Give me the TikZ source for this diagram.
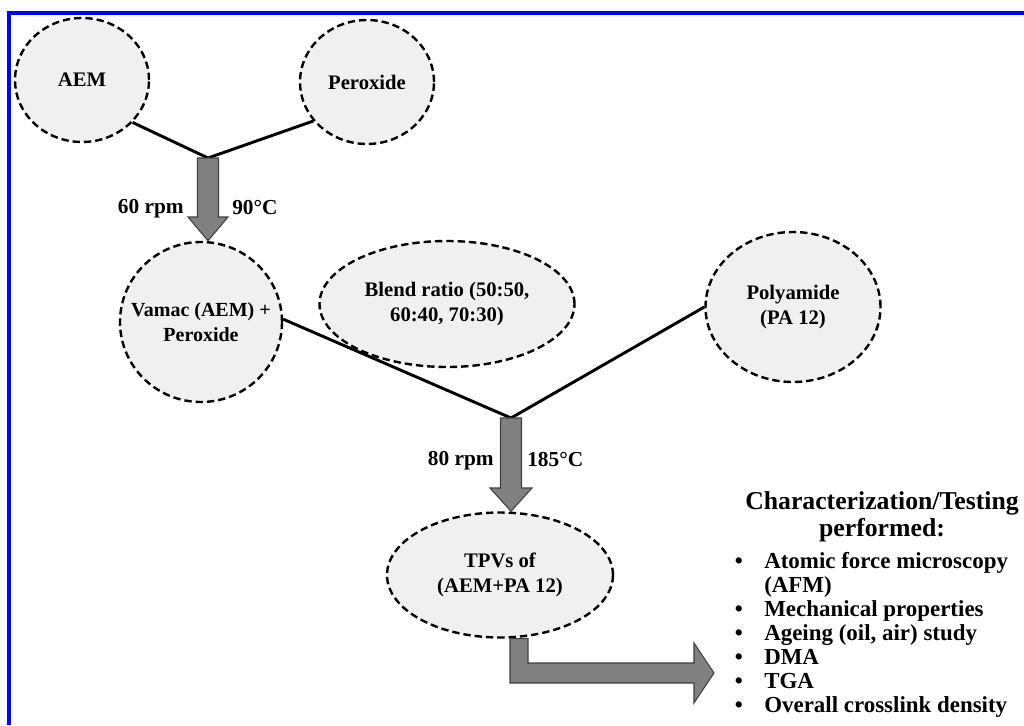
\documentclass[tikz,border=0pt]{standalone}
\usepackage{fontspec}
\setmainfont{Liberation Serif}
\usetikzlibrary{shapes.geometric,calc}
\definecolor{bubble}{RGB}{240,240,240}
\definecolor{arrowgray}{RGB}{128,128,128}
\definecolor{frameblue}{RGB}{0,0,255}
% sizes are given in pixels of the 1024x725 reference: 1px = 0.75pt
\tikzset{
  bub/.style={ellipse, draw=black, line width=1.8pt, dash pattern=on 5.5pt off 3pt, fill=bubble, inner sep=0pt},
  bubsize/.style n args={2}{minimum width=#1*0.75pt, minimum height=#2*0.75pt},
  btxt/.style={align=center, inner sep=0pt, font=\bfseries\fontsize{15.5}{18.5}\selectfont},
  link/.style={line width=2.2pt, black},
  fat/.style={fill=arrowgray, draw=black!75, line width=0.8pt, line join=miter},
  lbl/.style={font=\bfseries\fontsize{16}{18}\selectfont, inner sep=0pt},
  listtxt/.style={font=\bfseries\fontsize{17.2}{18}\selectfont, inner sep=0pt, anchor=base west},
  bul/.style={font=\bfseries\fontsize{17.2}{18}\selectfont, inner sep=0pt, anchor=base},
}
\begin{document}
\begin{tikzpicture}[x=0.75pt,y=-0.75pt]
\useasboundingbox (0,0) rectangle (1024,725);
\fill[white] (0,0) rectangle (1024,725);
% frame (top and left edges)
\draw[frameblue, line width=2.4pt] (9,725) -- (9,13) -- (1024,13);

% bubbles
\node[bub, bubsize={134}{124}] (aem) at (82,80) {};
\node[btxt] (aemt) at (aem) {AEM};
\node[bub, bubsize={134}{124}] (per) at (367,82) {};
\node[btxt] (pert) at (per) {Peroxide};
\node[bub, bubsize={162}{160}] (vam) at (201,322) {};
\node[btxt, font=\bfseries\fontsize{15}{18.5}\selectfont] (vamt) at (vam) {Vamac (AEM) +\\Peroxide};
\node[bub, bubsize={255}{126}] (bld) at (447,304) {};
\node[btxt] (bldt) at (bld) {Blend ratio (50:50,\\60:40, 70:30)};
\node[bub, bubsize={175}{150}] (pa) at (793,307) {};
\node[btxt] (pat) at (pa) {Polyamide\\(PA 12)};
\node[bub, bubsize={226}{125}] (tpv) at (500,575) {};
\node[btxt] (tpvt) at (tpv) {TPVs of\\(AEM+PA 12)};

% junctions
\coordinate (j1) at (208,158);
\coordinate (j2) at (511,418);

% connectors
\draw[link] (aem.-40) -- (j1) -- (per.-144);
\draw[link] (vam.2) -- (j2) -- (pa.west);

% fat arrow 1 (j1 -> vamac)
\draw[fat] ($(j1)+(-10.5,0)$) -- ($(j1)+(10.5,0)$) -- ($(j1)+(10.5,59)$) -- ($(j1)+(20,59)$)
  -- (j1 |- vam.north) -- ($(j1)+(-20,59)$) -- ($(j1)+(-10.5,59)$) -- cycle;
% fat arrow 2 (j2 -> tpv)
\draw[fat] ($(j2)+(-10.5,0)$) -- ($(j2)+(10.5,0)$) -- ($(j2)+(10.5,70)$) -- ($(j2)+(21,70)$)
  -- (j2 |- tpv.north) -- ($(j2)+(-21,70)$) -- ($(j2)+(-10.5,70)$) -- cycle;
% bent arrow (tpv -> list)
\coordinate (bt) at ($(tpv.south)+(10,0)$);
\coordinate (tip) at (714,673);
\draw[fat] (bt) -- ($(bt)+(18,0)$) |- ($(tip)+(-20,-10)$)
  -- ($(tip)+(-20,-30)$) -- (tip) -- ($(tip)+(-20,30)$) -- ($(tip)+(-20,10)$) -| cycle;

% process labels
\node[lbl, anchor=east] (l60) at (184,209) {60 rpm};
\node[lbl, anchor=west] (l90) at (232,208) {90°C};
\node[lbl, anchor=east] (l80) at (494,461) {80 rpm};
\node[lbl, anchor=west] (l185) at (527,460) {185°C};

% characterization block
\node[font=\bfseries\fontsize{19.3}{20.5}\selectfont, align=center, inner sep=0pt] (title) at (882,517)
  {Characterization/Testing\\performed:};
\foreach \y/\t [count=\i] in {568/Atomic force microscopy, 592/(AFM), 616/Mechanical properties,
  640/{Ageing (oil, air) study}, 664/DMA, 688/TGA, 712/Overall crosslink density}{
  \node[listtxt] (it\i) at (764,\y) {\t};
}
\foreach \y/\i in {568/1,616/3,640/4,664/5,688/6,712/7}{
  \node[bul] (b\i) at (739,\y) {•};
}
\end{tikzpicture}
\end{document}
